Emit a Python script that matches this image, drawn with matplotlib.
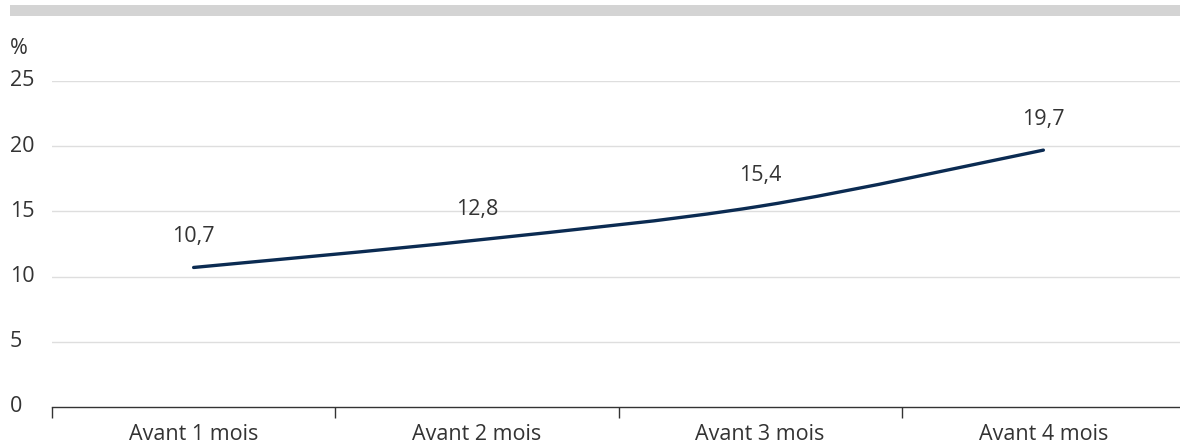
import matplotlib
matplotlib.use("Agg")
import matplotlib.pyplot as plt
from matplotlib.patches import Rectangle, PathPatch
from matplotlib.path import Path
from matplotlib.transforms import blended_transform_factory
import numpy as np

plt.rcParams['font.family'] = ['Open Sans', 'DejaVu Sans']

categories = ["Avant 1 mois", "Avant 2 mois", "Avant 3 mois", "Avant 4 mois"]
values = [10.7, 12.8, 15.4, 19.7]
value_labels = ["10,7", "12,8", "15,4", "19,7"]
y_ticks = [0, 5, 10, 15, 20, 25]

LINE = "#0b2b52"
TEXT = "#333333"
GRID = "#dedede"
FS = 15.5

W, H = 1180, 445
fig = plt.figure(figsize=(W / 100, H / 100), dpi=100)

# grey band across the top
fig.patches.append(Rectangle((10 / W, 1 - 16 / H), 1170 / W, 11 / H,
                             transform=fig.transFigure, facecolor="#d4d4d4",
                             edgecolor="none"))

ax = fig.add_axes([52 / W, 38 / H, 1133 / W, 326 / H])
ax.set_xlim(-0.5, 3.5)
ax.set_ylim(0, 25)

for s in ("top", "right", "left"):
    ax.spines[s].set_visible(False)
ax.spines["bottom"].set_color(TEXT)
ax.spines["bottom"].set_linewidth(1.0)

# horizontal gridlines
for t in y_ticks[1:]:
    ax.axhline(t, color=GRID, linewidth=1.0, zorder=0)

# y tick labels, left-aligned at the figure edge
ax.set_yticks([])
ytrans = blended_transform_factory(fig.transFigure, ax.transData)
for t in y_ticks:
    ax.text(10 / W, t, str(t), transform=ytrans,
            ha="left", va="center", fontsize=FS, color=TEXT)
fig.text(10 / W, 1 - 48 / H, "%", ha="left", va="center", fontsize=FS, color=TEXT)

# x axis: labels at category centres, tick marks at boundaries
x = np.arange(len(categories))
ax.set_xticks(x)
ax.set_xticklabels(categories, fontsize=FS, color=TEXT)
ax.tick_params(axis="x", which="major", length=0, pad=12)
ax.set_xticks(np.arange(-0.5, len(categories) - 0.5, 1.0), minor=True)
ax.tick_params(axis="x", which="minor", length=8, width=1.0, color=TEXT, direction="out")

# smooth line through the points (Catmull-Rom as cubic Bezier segments)
pts = np.column_stack([x, values]).astype(float)
verts = [tuple(pts[0])]
codes = [Path.MOVETO]
n = len(pts)
for i in range(n - 1):
    p0 = pts[i - 1] if i > 0 else pts[i]
    p1 = pts[i]
    p2 = pts[i + 1]
    p3 = pts[i + 2] if i + 2 < n else pts[i + 1]
    c1 = p1 + (p2 - p0) / 6.0
    c2 = p2 - (p3 - p1) / 6.0
    verts += [tuple(c1), tuple(c2), tuple(p2)]
    codes += [Path.CURVE4] * 3
ax.add_patch(PathPatch(Path(verts, codes), facecolor="none", edgecolor=LINE,
                       linewidth=2.4, capstyle="round", zorder=3))

for xi, v, lab in zip(x, values, value_labels):
    ax.annotate(lab, (xi, v), xytext=(0, 22), textcoords="offset points",
                ha="center", va="center", fontsize=FS, color=TEXT)

fig.savefig("out.png", dpi=100)
